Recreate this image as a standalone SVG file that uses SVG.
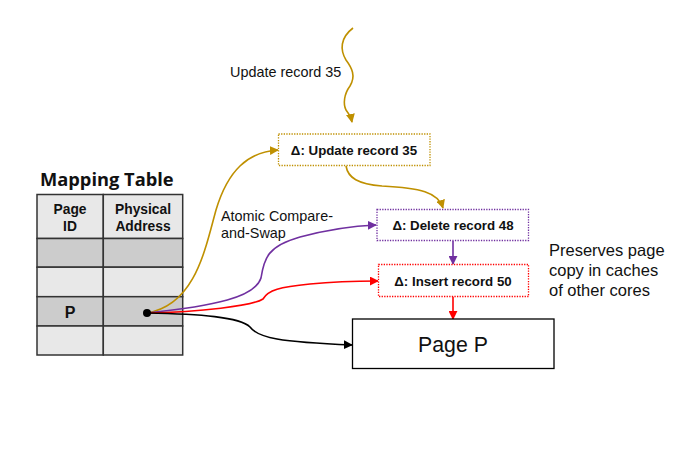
<svg xmlns="http://www.w3.org/2000/svg" width="683" height="461" viewBox="0 0 683 461">
<style>
  .lbl { font-family: "Liberation Sans", Arial, sans-serif; fill: #111; }
  .dl { font-family: "Liberation Sans", Arial, sans-serif; font-weight: bold; font-size: 13.3px; fill: #111; text-anchor: middle; }
  .th { font-family: "Liberation Sans", Arial, sans-serif; font-weight: bold; font-size: 13.8px; fill: #111; text-anchor: middle; }
  .cell { stroke: #333; stroke-width: 1.5; }
  .lt { fill: #e8e8e8; }
  .dk { fill: #cccccc; }
  .c { fill: none; stroke-width: 1.6; }
  .box { fill: #fff; stroke-width: 1.3; stroke-dasharray: 1.3 1.3; }
</style>
<defs>
  <marker id="aG" viewBox="0 0 10 10" refX="9" refY="5" markerWidth="9" markerHeight="9" markerUnits="userSpaceOnUse" orient="auto"><path d="M0,0 L10,5 L0,10 z" fill="#BF9000"/></marker>
  <marker id="aP" viewBox="0 0 10 10" refX="9" refY="5" markerWidth="9" markerHeight="9" markerUnits="userSpaceOnUse" orient="auto"><path d="M0,0 L10,5 L0,10 z" fill="#7030A0"/></marker>
  <marker id="aR" viewBox="0 0 10 10" refX="9" refY="5" markerWidth="9" markerHeight="9" markerUnits="userSpaceOnUse" orient="auto"><path d="M0,0 L10,5 L0,10 z" fill="#FF0000"/></marker>
  <marker id="aK" viewBox="0 0 10 10" refX="9" refY="5" markerWidth="9" markerHeight="9" markerUnits="userSpaceOnUse" orient="auto"><path d="M0,0 L10,5 L0,10 z" fill="#000"/></marker>
</defs>
<rect width="683" height="461" fill="#fff"/>

<g id="mapping-table">
  <text x="40" y="186" font-family="Open Sans, Noto Sans, sans-serif" font-weight="bold" font-size="18.3px" fill="#111">Mapping Table</text>
  <rect class="cell lt" x="37" y="194.5" width="66.3" height="44"/>
  <rect class="cell lt" x="103.3" y="194.5" width="79.4" height="44"/>
  <rect class="cell dk" x="37" y="238.5" width="66.3" height="28.7"/>
  <rect class="cell dk" x="103.3" y="238.5" width="79.4" height="28.7"/>
  <rect class="cell lt" x="37" y="267.2" width="66.3" height="29.5"/>
  <rect class="cell lt" x="103.3" y="267.2" width="79.4" height="29.5"/>
  <rect class="cell dk" x="37" y="296.7" width="66.3" height="29.3"/>
  <rect class="cell dk" x="103.3" y="296.7" width="79.4" height="29.3"/>
  <rect class="cell lt" x="37" y="326" width="66.3" height="29"/>
  <rect class="cell lt" x="103.3" y="326" width="79.4" height="29"/>
  <text class="th" x="70" y="213.5">Page</text>
  <text class="th" x="70" y="230.5">ID</text>
  <text class="th" x="143" y="213.5">Physical</text>
  <text class="th" x="143" y="230.5">Address</text>
  <text class="th" x="70" y="317.5" style="font-size:16px">P</text>
</g>

<g id="connectors">
  <path class="c" stroke="#BF9000" d="M353,28 C340,38 340,50 346,60 C352,68 356,76 350,86 C344,94 343,104 346,110 C349,114 351,117 352,122" marker-end="url(#aG)"/>
  <path class="c" stroke="#BF9000" d="M147,313 C195,305 205,250 216,210 C228,170 248,152 278,150" marker-end="url(#aG)"/>
  <path class="c" stroke="#BF9000" d="M346,166 C348,178 358,184 382,186 C420,188 438,192 443,208" marker-end="url(#aG)"/>
  <path class="c" stroke="#7030A0" d="M147,313 C215,306 255,297 261,278 C264,258 268,246 300,237 C330,229 350,226 376,225" marker-end="url(#aP)"/>
  <path class="c" stroke="#7030A0" d="M453,241 L453,264" marker-end="url(#aP)"/>
  <path class="c" stroke="#FF0000" d="M147,313 C200,312 252,306 263,299 C268,290 280,287 310,284 C340,281 360,281 378,281" marker-end="url(#aR)"/>
  <path class="c" stroke="#FF0000" d="M453,296.5 L453,319" marker-end="url(#aR)"/>
  <path class="c" stroke="#000" d="M147,313 C200,314 240,317 250,327 C258,338 280,342 352,345" marker-end="url(#aK)"/>
  <circle cx="147" cy="313" r="4" fill="#000"/>
</g>

<g id="update-label">
  <text class="lbl" x="230" y="77" font-size="14.4px">Update record 35</text>
</g>

<g id="delta-update">
  <rect class="box" stroke="#BF9000" x="278.5" y="134" width="151.5" height="31.5"/>
  <text class="dl" x="354" y="155">Δ: Update record 35</text>
</g>

<g id="cas-label">
  <text class="lbl" x="221" y="220.5" font-size="14.4px">Atomic Compare-</text>
  <text class="lbl" x="221" y="238" font-size="14.4px">and-Swap</text>
</g>

<g id="delta-delete">
  <rect class="box" stroke="#7030A0" x="377" y="209.5" width="151.5" height="31"/>
  <text class="dl" x="453" y="230">Δ: Delete record 48</text>
</g>

<g id="delta-insert">
  <rect class="box" stroke="#FF0000" x="378.5" y="264.5" width="150" height="32"/>
  <text class="dl" x="453" y="286">Δ: Insert record 50</text>
</g>

<g id="page-p">
  <rect x="352.5" y="319" width="201.5" height="49.5" fill="#fff" stroke="#000" stroke-width="1.3"/>
  <text class="lbl" x="453" y="352" font-size="21.3px" text-anchor="middle">Page P</text>
</g>

<g id="note">
  <text class="lbl" x="549" y="256" font-size="16.5px">Preserves page</text>
  <text class="lbl" x="549" y="276" font-size="16.5px">copy in caches</text>
  <text class="lbl" x="549" y="296" font-size="16.5px">of other cores</text>
</g>
</svg>
